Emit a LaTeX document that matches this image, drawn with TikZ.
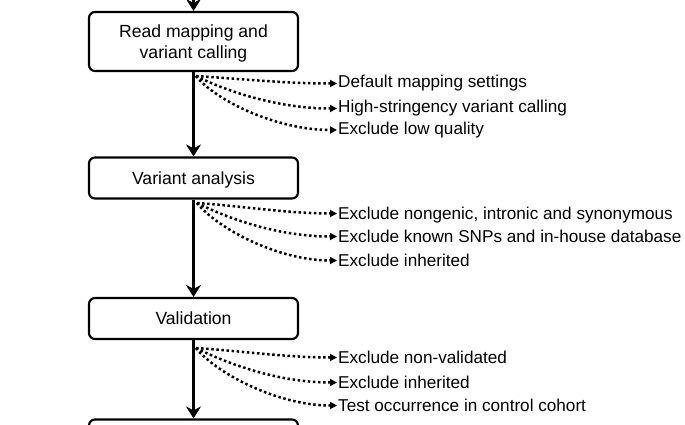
\documentclass[tikz,border=0pt]{standalone}
\usepackage{fontspec}
\setmainfont{Liberation Sans}
\usetikzlibrary{arrows.meta}
\begin{document}
\begin{tikzpicture}[x=1pt,y=-1pt,
  stagebox/.style={draw, line width=2.1pt, rounded corners=6pt, minimum width=209pt,
    align=center, font=\fontsize{17.6}{20.5}\selectfont, inner sep=0pt, text depth=0pt},
  flow/.style={line width=2.1pt, -{Stealth[length=12pt,width=15pt,inset=4pt]}},
  dots/.style={line width=2.5pt, dash pattern=on 2.5pt off 2.6pt, -{Triangle[length=7pt,width=7pt]}},
  note/.style={anchor=base west, inner sep=0pt, font=\fontsize{17.15}{20}\selectfont}]
\useasboundingbox (0,0) rectangle (685,425);
\clip (0,0) rectangle (685,425);

\node[stagebox, minimum height=59pt] (b1) at (193.5,41.5) {Read mapping and\\variant calling};
\node[stagebox, minimum height=41pt] (b2) at (193.5,178) {Variant analysis};
\node[stagebox, minimum height=41pt] (b3) at (193.5,318.5) {Validation};
\node[stagebox, minimum height=41pt] (b4) at (193.5,440) {};
\coordinate (top) at (193.5,-20);

\draw[flow] (top) -- (b1.north);
\draw[flow] (b1.south) -- (b2.north);
\draw[flow] (b2.south) -- (b3.north);
\draw[flow] (b3.south) -- (b4.north);

% group 1
\coordinate (s1) at (196,76);
\node[note] (t11) at (338,88) {Default mapping settings};
\node[note] (t12) at (338,113) {High-stringency variant calling};
\node[note] (t13) at (338,135) {Exclude low quality};
\coordinate (e11) at (337,83.5);
\coordinate (e12) at (337,108.5);
\coordinate (e13) at (337,130);
\draw[dots] (s1) .. controls +(45,3) and +(-50,0) .. (e11);
\draw[dots] (s1) .. controls +(30,15) and +(-60,0) .. (e12);
\draw[dots] (s1) .. controls +(20,25) and +(-60,0) .. (e13);

% group 2
\coordinate (s2) at (197,203);
\node[note] (t21) at (338,219) {Exclude nongenic, intronic and synonymous};
\node[note] (t22) at (338,242) {Exclude known SNPs and in-house database};
\node[note] (t23) at (338,266) {Exclude inherited};
\coordinate (e21) at (337,213.5);
\coordinate (e22) at (337,236.5);
\coordinate (e23) at (337,260.5);
\draw[dots] (s2) .. controls +(45,3) and +(-50,0) .. (e21);
\draw[dots] (s2) .. controls +(30,15) and +(-60,0) .. (e22);
\draw[dots] (s2) .. controls +(20,25) and +(-60,0) .. (e23);

% group 3
\coordinate (s3) at (196,348);
\node[note] (t31) at (338,363) {Exclude non-validated};
\node[note] (t32) at (338,388) {Exclude inherited};
\node[note] (t33) at (338,411) {Test occurrence in control cohort};
\coordinate (e31) at (337,357.5);
\coordinate (e32) at (337,382.5);
\coordinate (e33) at (337,405.5);
\draw[dots] (s3) .. controls +(45,3) and +(-50,0) .. (e31);
\draw[dots] (s3) .. controls +(30,15) and +(-60,0) .. (e32);
\draw[dots] (s3) .. controls +(20,25) and +(-60,0) .. (e33);
\end{tikzpicture}
\end{document}
